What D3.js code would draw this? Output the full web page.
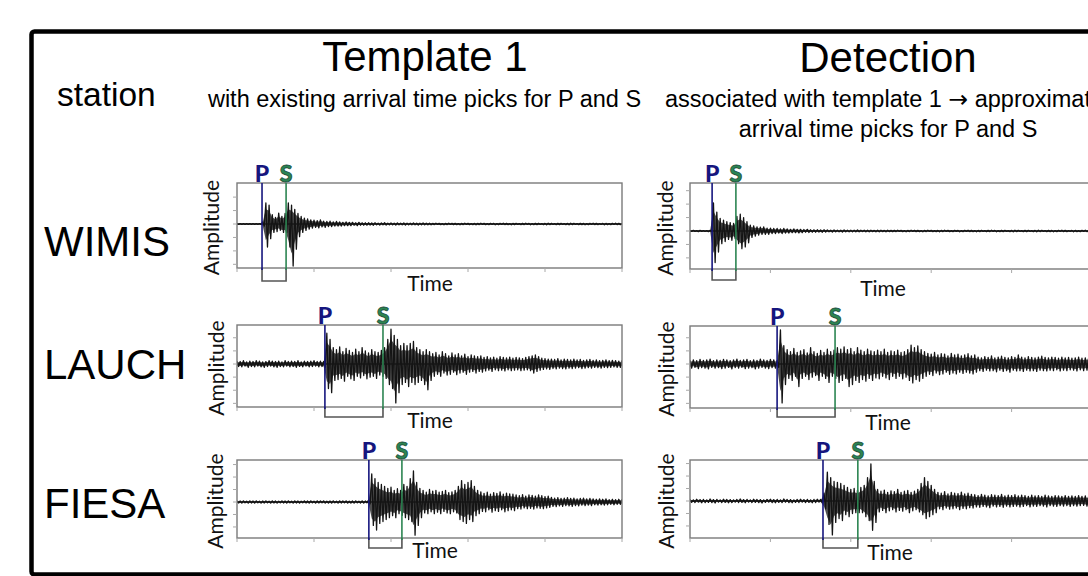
<!DOCTYPE html>
<html>
<head>
<meta charset="utf-8">
<script src="https://cdn.jsdelivr.net/npm/d3@7"></script>
<style>
  body { margin: 0; background: #fff; }
  svg { display: block; }
  .heading { font-family: 'Liberation Sans', Arial, sans-serif; fill: #000; }
  .axislabel { font-family: Lato, 'DejaVu Sans', sans-serif; fill: #111; }
  .pick { font-family: Lato, 'DejaVu Sans', sans-serif; font-weight: 900; }
</style>
</head>
<body>
<svg id="chart" width="1088" height="576"></svg>
<script>

//============================================================
// Data
// traces are envelope samples, one per second (0..120 s), in units of half the panel height
//============================================================

var stations    = ['WIMIS', 'LAUCH', 'FIESA'],
    columnTitle = ['Template 1', 'Detection'],
    timeTicks   = [0, 24, 48, 72, 96, 120],
    ampTicks    = [-0.96, -0.64, -0.32, 0, 0.32, 0.64, 0.96];

// [P, S] arrival times in seconds
var templatePicks  = [[7.8, 15.3], [27.4, 45.5], [41.1, 51.4]],
    detectionPicks = [[6.6, 13.7], [26.0, 43.3], [39.7, 50.1]];

var wimisTemplateUp = [
	0.01,0.01,0.01,0.01,0.01,0.01,0.01,0.01,
	0.05,0.5,0.45,0.22,0.16,0.26,0.18,0.25,0.5,0.45,0.35,0.25,0.18,0.14,0.12,0.1,
	0.09,0.08,0.1,0.07,0.06,0.07,0.05,0.06,0.05,0.04,0.05,0.04,0.04,0.03,0.04,0.03,0.03,
	0.03,0.025,0.03,0.02,0.025,0.03,0.02,0.025,0.02,0.025,0.02,0.025,0.02,0.02,0.025,0.02,0.02,0.025,0.02,0.02,
	0.015,0.02,0.015,0.01,0.015,0.02,0.015,0.015,0.01,0.015,0.02,0.015,0.01,0.015,0.015,0.02,0.015,0.01,0.015,0.015,
	0.01,0.015,0.02,0.015,0.01,0.015,0.015,0.01,0.015,0.02,0.015,0.01,0.015,0.015,0.01,0.015,0.02,0.015,0.01,0.015,
	0.015,0.01,0.015,0.02,0.015,0.01,0.015,0.015,0.01,0.015,0.02,0.015,0.01,0.015,0.015,0.01,0.015,0.02,0.015,0.01
];
var wimisTemplateDown = [
	0.01,0.01,0.01,0.01,0.01,0.01,0.01,0.01,
	0.05,0.55,0.35,0.2,0.18,0.15,0.2,0.2,0.55,1.0,0.6,0.3,0.2,0.15,0.12,0.1,
	0.08,0.09,0.07,0.08,0.06,0.06,0.05,0.05,0.05,0.04,0.04,0.04,0.03,0.04,0.03,0.03,0.03,
	0.025,0.03,0.02,0.025,0.02,0.025,0.02,0.02,0.025,0.02,0.02,0.025,0.02,0.02,0.02,0.025,0.02,0.02,0.02,0.02,
	0.015,0.01,0.015,0.02,0.015,0.01,0.015,0.015,0.02,0.015,0.01,0.015,0.015,0.02,0.015,0.01,0.015,0.015,0.01,0.02,
	0.015,0.01,0.015,0.015,0.02,0.015,0.01,0.015,0.015,0.01,0.02,0.015,0.015,0.01,0.015,0.02,0.015,0.01,0.015,0.015,
	0.01,0.015,0.02,0.015,0.01,0.015,0.015,0.02,0.015,0.01,0.015,0.015,0.01,0.02,0.015,0.015,0.01,0.015,0.015,0.01
];

var wimisDetectUp = [
	0.01,0.015,0.01,0.015,0.01,0.01,0.015,
	0.67,0.45,0.3,0.26,0.22,0.2,0.18,0.35,0.4,0.32,0.22,0.14,0.12,0.1,0.09,0.1,0.07,0.07,0.06,
	0.06,0.05,0.06,0.05,0.04,0.05,0.04,0.04,0.035,0.04,0.03,0.03,0.03,0.025,0.03,
	0.025,0.02,0.025,0.02,0.02,0.025,0.02,0.02,0.02,0.025,0.02,0.02,0.02,0.02,0.015,0.02,0.02,0.015,0.02,0.015,
	0.015,0.02,0.015,0.01,0.015,0.02,0.015,0.015,0.01,0.015,0.02,0.015,0.01,0.015,0.015,0.02,0.015,0.01,0.015,0.015,
	0.01,0.015,0.02,0.015,0.01,0.015,0.015,0.01,0.015,0.02,0.015,0.01,0.015,0.015,0.01,0.015,0.02,0.015,0.01,0.015,
	0.015,0.01,0.015,0.02,0.015,0.01,0.015,0.015,0.01,0.015,0.02,0.015,0.01,0.015,0.015,0.01,0.015,0.02,0.015,0.01
];
var wimisDetectDown = [
	0.01,0.01,0.015,0.01,0.01,0.015,0.01,
	0.75,0.5,0.3,0.25,0.2,0.22,0.18,0.3,0.42,0.38,0.28,0.15,0.12,0.1,0.08,0.08,0.08,0.06,0.06,
	0.05,0.06,0.05,0.05,0.04,0.04,0.045,0.04,0.03,0.035,0.03,0.03,0.025,0.03,0.025,
	0.02,0.025,0.02,0.02,0.025,0.02,0.02,0.02,0.02,0.02,0.015,0.02,0.02,0.015,0.02,0.02,0.015,0.02,0.015,0.015,
	0.015,0.01,0.015,0.02,0.015,0.01,0.015,0.015,0.02,0.015,0.01,0.015,0.015,0.02,0.015,0.01,0.015,0.015,0.01,0.02,
	0.015,0.01,0.015,0.015,0.02,0.015,0.01,0.015,0.015,0.01,0.02,0.015,0.015,0.01,0.015,0.02,0.015,0.01,0.015,0.015,
	0.01,0.015,0.02,0.015,0.01,0.015,0.015,0.02,0.015,0.01,0.015,0.015,0.01,0.02,0.015,0.015,0.01,0.015,0.015,0.01
];

var lauchTemplateUp = [
	0.07,0.06,0.08,0.05,0.07,0.06,0.08,0.07,0.05,0.06,0.08,0.07,0.06,0.07,0.05,0.08,0.06,0.07,0.06,0.08,0.05,0.07,0.06,0.07,0.08,0.06,0.07,0.06,
	0.75,0.6,0.4,0.35,0.42,0.3,0.38,0.33,0.28,0.36,0.3,0.4,0.32,0.27,0.35,0.3,0.28,0.33,
	0.4,0.6,0.85,0.7,0.6,0.45,0.5,0.45,0.5,0.55,0.4,0.35,0.3,0.35,0.3,0.25,
	0.28,0.22,0.3,0.25,0.2,0.27,0.22,0.25,0.2,0.24,0.18,0.22,0.2,0.18,0.2,
	0.16,0.18,0.15,0.17,0.14,0.18,0.16,0.15,0.17,0.14,0.16,0.15,0.13,0.16,0.18,0.2,0.22,0.18,0.14,0.13,0.12,
	0.12,0.11,0.13,0.1,0.12,0.11,0.1,0.12,0.1,0.11,0.09,0.1,0.11,0.09,0.1,0.08,0.09,0.1,0.08,0.09,0.08,0.07,0.08
];
var lauchTemplateDown = [
	0.06,0.07,0.05,0.08,0.06,0.07,0.05,0.07,0.08,0.06,0.05,0.07,0.08,0.06,0.07,0.05,0.07,0.06,0.08,0.06,0.07,0.05,0.07,0.06,0.05,0.07,0.06,0.08,
	0.6,0.7,0.4,0.38,0.35,0.42,0.3,0.36,0.4,0.3,0.34,0.28,0.36,0.32,0.3,0.35,0.27,0.3,
	0.35,0.5,0.6,0.95,0.7,0.5,0.45,0.55,0.45,0.5,0.45,0.4,0.5,0.63,0.4,0.3,
	0.25,0.3,0.22,0.27,0.25,0.2,0.26,0.22,0.2,0.25,0.2,0.18,0.22,0.18,0.2,
	0.17,0.15,0.18,0.14,0.16,0.15,0.17,0.14,0.16,0.15,0.14,0.16,0.15,0.14,0.16,0.22,0.18,0.15,0.13,0.12,0.13,
	0.11,0.12,0.1,0.11,0.12,0.1,0.11,0.1,0.09,0.11,0.1,0.09,0.1,0.08,0.09,0.1,0.08,0.09,0.08,0.07,0.08,0.08,0.07
];

var lauchDetectUp = [
	0.09,0.1,0.08,0.11,0.09,0.1,0.12,0.08,0.1,0.09,0.11,0.1,0.08,0.1,0.12,0.09,0.1,0.11,0.08,0.1,0.09,0.12,0.1,0.09,0.11,0.1,0.09,
	0.83,0.45,0.35,0.3,0.38,0.28,0.32,0.35,0.27,0.4,0.3,0.26,0.33,0.28,0.36,0.3,0.34,
	0.4,0.36,0.42,0.35,0.38,0.3,0.4,0.34,0.3,0.36,0.32,0.3,
	0.34,0.3,0.36,0.28,0.32,0.3,0.34,0.28,0.3,0.35,
	0.46,0.4,0.44,0.35,0.3,
	0.26,0.24,0.28,0.22,0.25,0.24,0.2,0.26,0.22,0.24,0.2,0.22,0.25,0.2,0.22,
	0.17,0.15,0.18,0.16,0.2,0.15,0.17,0.19,0.16,0.15,0.18,0.16,0.22,0.17,0.15,0.18,0.16,0.15,0.17,0.19,0.16,0.15,0.17,0.16,0.14,0.17,0.15,0.16,0.14,0.15,0.17,0.14,0.15,0.16,0.14
];
var lauchDetectDown = [
	0.1,0.08,0.11,0.09,0.1,0.12,0.08,0.1,0.09,0.11,0.1,0.08,0.12,0.09,0.1,0.08,0.11,0.1,0.09,0.12,0.1,0.08,0.1,0.11,0.09,0.1,0.08,
	0.95,0.5,0.35,0.4,0.3,0.55,0.35,0.3,0.38,0.32,0.28,0.4,0.3,0.35,0.45,0.3,0.35,
	0.45,0.4,0.35,0.55,0.5,0.4,0.45,0.38,0.42,0.35,0.4,0.34,
	0.36,0.3,0.34,0.38,0.3,0.35,0.3,0.36,0.32,0.4,
	0.46,0.38,0.42,0.35,0.3,
	0.25,0.28,0.22,0.26,0.24,0.2,0.25,0.22,0.24,0.2,0.23,0.2,0.22,0.24,0.2,
	0.16,0.18,0.15,0.17,0.16,0.19,0.15,0.18,0.16,0.2,0.15,0.17,0.16,0.18,0.15,0.17,0.16,0.18,0.15,0.16,0.17,0.15,0.16,0.14,0.17,0.15,0.16,0.14,0.15,0.17,0.14,0.16,0.15,0.14,0.15
];

var fiesaTemplateUp = [
	0.03,0.025,0.03,0.02,0.03,0.025,0.03,0.02,0.025,0.03,0.02,0.03,0.025,0.02,0.03,0.025,0.03,0.02,0.03,0.025,
	0.02,0.03,0.025,0.03,0.02,0.03,0.025,0.03,0.02,0.025,0.03,0.02,0.03,0.025,0.03,0.02,0.025,0.03,0.02,0.03,0.025,
	0.05,0.72,0.6,0.5,0.45,0.4,0.35,0.38,0.3,0.34,0.3,0.45,0.4,0.6,0.8,0.5,0.35,
	0.3,0.25,0.32,0.28,0.3,0.25,0.27,0.3,0.24,0.26,0.3,
	0.4,0.55,0.45,0.5,0.55,0.4,0.3,
	0.26,0.22,0.25,0.2,0.24,0.22,0.26,0.2,0.23,0.21,0.2,
	0.18,0.16,0.19,0.15,0.18,0.17,0.15,0.18,0.16,0.14,0.15,
	0.12,0.1,0.11,0.09,0.1,0.11,0.09,0.1,0.08,0.09,0.1,0.08,0.09,0.08,0.07,0.08,0.07,0.08,0.06,0.07,0.06,0.07,0.06
];
var fiesaTemplateDown = [
	0.025,0.03,0.02,0.03,0.025,0.03,0.02,0.03,0.025,0.02,0.03,0.025,0.03,0.02,0.025,0.03,0.02,0.03,0.025,0.03,
	0.02,0.025,0.03,0.02,0.03,0.025,0.02,0.03,0.025,0.03,0.02,0.03,0.025,0.02,0.03,0.025,0.03,0.02,0.025,0.03,0.02,
	0.05,0.6,0.72,0.55,0.5,0.45,0.4,0.35,0.4,0.3,0.34,0.4,0.45,0.5,0.85,0.6,0.4,
	0.28,0.3,0.25,0.3,0.26,0.3,0.24,0.28,0.3,0.25,0.28,
	0.45,0.5,0.55,0.45,0.5,0.35,0.3,
	0.24,0.25,0.2,0.26,0.22,0.24,0.2,0.25,0.22,0.2,0.22,
	0.17,0.18,0.15,0.17,0.16,0.18,0.15,0.16,0.17,0.15,0.14,
	0.11,0.12,0.1,0.11,0.09,0.1,0.11,0.09,0.1,0.08,0.09,0.08,0.09,0.07,0.08,0.07,0.08,0.07,0.06,0.07,0.06,0.06,0.06
];

var fiesaDetectUp = [
	0.04,0.03,0.045,0.035,0.04,0.03,0.05,0.035,0.04,0.03,0.045,0.04,0.035,0.03,0.04,0.05,0.035,0.04,0.03,0.045,
	0.04,0.035,0.03,0.04,0.045,0.035,0.04,0.03,0.05,0.04,0.035,0.03,0.04,0.045,0.035,0.04,0.03,0.04,0.045,0.04,
	0.2,0.74,0.6,0.5,0.48,0.45,0.4,0.35,0.3,0.32,0.28,0.35,0.4,0.6,0.95,0.5,
	0.3,0.25,0.28,0.22,0.26,0.24,0.3,0.22,0.25,0.27,0.22,0.25,0.3,
	0.45,0.6,0.5,0.4,0.3,
	0.22,0.2,0.24,0.18,0.22,0.2,0.19,0.23,0.18,0.2,0.17,
	0.16,0.14,0.17,0.15,0.13,0.16,0.15,0.14,0.17,0.13,0.15,0.14,0.16,0.13,0.15,0.14,0.12,0.15,
	0.13,0.14,0.12,0.15,0.13,0.12,0.14,0.13,0.12,0.14,0.12,0.13,0.12,0.14,0.12,0.13,0.12,0.11
];
var fiesaDetectDown = [
	0.035,0.04,0.03,0.045,0.04,0.035,0.04,0.05,0.03,0.04,0.035,0.045,0.04,0.03,0.04,0.035,0.045,0.03,0.04,0.035,
	0.04,0.05,0.035,0.03,0.04,0.045,0.035,0.04,0.03,0.04,0.045,0.035,0.04,0.03,0.04,0.035,0.045,0.04,0.03,0.04,
	0.2,0.6,0.87,0.55,0.45,0.5,0.35,0.4,0.32,0.3,0.3,0.3,0.4,0.5,0.75,0.55,
	0.28,0.24,0.3,0.25,0.22,0.28,0.24,0.26,0.22,0.3,0.25,0.22,0.28,
	0.35,0.45,0.4,0.35,0.3,
	0.2,0.22,0.18,0.21,0.2,0.18,0.22,0.19,0.2,0.17,0.18,
	0.15,0.16,0.14,0.15,0.17,0.13,0.15,0.14,0.16,0.13,0.15,0.14,0.13,0.15,0.14,0.12,0.15,0.13,
	0.14,0.12,0.13,0.15,0.12,0.13,0.14,0.12,0.13,0.12,0.14,0.12,0.13,0.12,0.11,0.13,0.12,0.11
];


//============================================================
// Layout of the six seismogram panels (template column, detection column)
//============================================================

var panels = [
	{x0: 237, x1: 622,  top: 183, bottom: 268, zero: 224, half: 42, bracket: 281, timeX: 430, timeY: 291, ampX: 219,
	 up: wimisTemplateUp, down: wimisTemplateDown, picks: templatePicks[0]},
	{x0: 690, x1: 1092, top: 183, bottom: 269, zero: 231, half: 42, bracket: 280, timeX: 883, timeY: 296, ampX: 673,
	 up: wimisDetectUp, down: wimisDetectDown, picks: detectionPicks[0]},
	{x0: 237, x1: 622,  top: 325, bottom: 407, zero: 364, half: 41, bracket: 417, timeX: 430, timeY: 428, ampX: 224,
	 up: lauchTemplateUp, down: lauchTemplateDown, picks: templatePicks[1]},
	{x0: 690, x1: 1092, top: 326, bottom: 408, zero: 364, half: 41, bracket: 417, timeX: 888, timeY: 430, ampX: 674,
	 up: lauchDetectUp, down: lauchDetectDown, picks: detectionPicks[1]},
	{x0: 237, x1: 622,  top: 460, bottom: 538, zero: 502, half: 39, bracket: 548, timeX: 435, timeY: 558, ampX: 223,
	 up: fiesaTemplateUp, down: fiesaTemplateDown, picks: templatePicks[2]},
	{x0: 690, x1: 1092, top: 460, bottom: 538, zero: 501, half: 39, bracket: 548, timeX: 890, timeY: 560, ampX: 674,
	 up: fiesaDetectUp, down: fiesaDetectDown, picks: detectionPicks[2]}
];

var pColour   = '#16167e',
    sColour   = '#2c8552',
    sOutline  = '#1b4d3b',
    frameGrey = '#7a7a7a',
    tickGrey  = '#a8a8a8',
    traceInk  = '#141414';

var svg = d3.select('#chart');

// outer black border (right side runs off the page)
svg.append('rect')
	.attr('x', 31.5)
	.attr('y', 31.5)
	.attr('width', 1100)
	.attr('height', 543)
	.attr('rx', 3)
	.style('fill', 'none')
	.style('stroke', '#000')
	.style('stroke-width', 4.5);

// column and row headings
svg.append('text').attr('class', 'heading')
	.attr('x', 57).attr('y', 106)
	.style('font-size', '33.5px')
	.text('station');

svg.append('text').attr('class', 'heading')
	.attr('x', 425).attr('y', 71)
	.attr('text-anchor', 'middle')
	.style('font-size', '42px')
	.text(columnTitle[0]);

svg.append('text').attr('class', 'heading')
	.attr('x', 888).attr('y', 72)
	.attr('text-anchor', 'middle')
	.style('font-size', '42px')
	.text(columnTitle[1]);

svg.append('text').attr('class', 'heading')
	.attr('x', 424.5).attr('y', 107)
	.attr('text-anchor', 'middle')
	.style('font-size', '23.5px')
	.text('with existing arrival time picks for P and S');

var assoc = svg.append('text').attr('class', 'heading')
	.attr('x', 665).attr('y', 107)
	.style('font-size', '23.5px');
assoc.append('tspan').text('associated with template 1 ');
assoc.append('tspan').style('font-family', "'DejaVu Sans', sans-serif").text('\u2192');
assoc.append('tspan').text(' approximate');

svg.append('text').attr('class', 'heading')
	.attr('x', 888).attr('y', 137)
	.attr('text-anchor', 'middle')
	.style('font-size', '23.5px')
	.text('arrival time picks for P and S');

svg.selectAll('.station')
	.data(stations)
	.enter()
	.append('text')
	.attr('class', 'heading station')
	.attr('x', 44)
	.attr('y', function(d, i){ return [256, 379, 518][i]; })
	.style('font-size', '42px')
	.text(function(d){ return d; });


//============================================================
// Seismogram panels
//============================================================

panels.forEach(function(p, i){

	var x = d3.scaleLinear().domain([timeTicks[0], timeTicks[timeTicks.length - 1]]).range([p.x0, p.x1]),
	    y = d3.scaleLinear().domain([-1, 1]).range([p.zero + p.half, p.zero - p.half]);

	var g = svg.append('g').attr('class', 'panel');

	g.append('rect')
		.attr('x', p.x0).attr('y', p.top)
		.attr('width', p.x1 - p.x0).attr('height', p.bottom - p.top)
		.style('fill', '#fff');

	g.append('clipPath')
		.attr('id', 'clip' + i)
		.append('rect')
		.attr('x', p.x0).attr('y', p.top)
		.attr('width', p.x1 - p.x0).attr('height', p.bottom - p.top);

	// zero line
	g.append('line')
		.attr('x1', p.x0).attr('x2', p.x1)
		.attr('y1', y(0)).attr('y2', y(0))
		.style('stroke', '#333')
		.style('stroke-width', 1.4);

	var trace = g.append('g').attr('clip-path', 'url(#clip' + i + ')');

	// shaded envelope gives the dense core of the seismogram
	var area = d3.area()
		.x(function(d, k){ return x(k); })
		.y0(function(d, k){ return y(-p.down[k] * 0.7); })
		.y1(function(d){ return y(d * 0.7); });

	trace.append('path')
		.attr('d', area(p.up))
		.style('fill', traceInk)
		.style('opacity', 0.75);

	// trace: zigzag between the positive and negative envelope samples
	var points = [];
	p.up.forEach(function(v, k){
		points.push([k, v]);
		points.push([k + 0.5, -p.down[k]]);
	});

	var line = d3.line()
		.x(function(d){ return x(d[0]); })
		.y(function(d){ return y(d[1]); });

	trace.append('path')
		.attr('d', line(points))
		.style('fill', 'none')
		.style('stroke', traceInk)
		.style('stroke-width', 1.3)
		.style('stroke-linejoin', 'round');

	// frame
	g.append('rect')
		.attr('x', p.x0).attr('y', p.top)
		.attr('width', p.x1 - p.x0).attr('height', p.bottom - p.top)
		.style('fill', 'none')
		.style('stroke', frameGrey)
		.style('stroke-width', 1.4);

	// ticks
	g.selectAll('.xtick')
		.data(timeTicks)
		.enter()
		.append('line')
		.attr('x1', function(d){ return x(d); })
		.attr('x2', function(d){ return x(d); })
		.attr('y1', p.bottom)
		.attr('y2', p.bottom + 4)
		.style('stroke', tickGrey);

	g.selectAll('.ytick')
		.data(ampTicks.filter(function(d){ return y(d) > p.top + 2 && y(d) < p.bottom - 1; }))
		.enter()
		.append('line')
		.attr('x1', p.x0 - 4)
		.attr('x2', p.x0)
		.attr('y1', function(d){ return y(d); })
		.attr('y2', function(d){ return y(d); })
		.style('stroke', tickGrey);

	// P-S window bracket below the frame
	var px = x(p.picks[0]),
	    sx = x(p.picks[1]);

	g.append('path')
		.attr('d', 'M' + px + ',' + p.bottom + 'V' + p.bracket + 'H' + sx + 'V' + p.bottom)
		.style('fill', 'none')
		.style('stroke', '#555')
		.style('stroke-width', 1.6);

	g.append('line')
		.attr('x1', px).attr('x2', px)
		.attr('y1', p.top).attr('y2', p.bottom + 2)
		.style('stroke', pColour)
		.style('stroke-width', 1.6);

	g.append('line')
		.attr('x1', sx).attr('x2', sx)
		.attr('y1', p.top).attr('y2', p.bottom + 2)
		.style('stroke', sColour)
		.style('stroke-width', 1.6);

	g.append('text')
		.attr('class', 'pick')
		.attr('x', px).attr('y', p.top - 1)
		.attr('text-anchor', 'middle')
		.style('font-size', '23px')
		.style('fill', pColour)
		.text('P');

	g.append('text')
		.attr('class', 'pick')
		.attr('x', sx).attr('y', p.top - 1)
		.attr('text-anchor', 'middle')
		.style('font-size', '23px')
		.style('fill', sColour)
		.style('stroke', sOutline)
		.style('stroke-width', 0.8)
		.text('S');

	// axis labels
	g.append('text')
		.attr('class', 'axislabel')
		.attr('x', p.timeX).attr('y', p.timeY)
		.attr('text-anchor', 'middle')
		.style('font-size', '21px')
		.text('Time');

	g.append('text')
		.attr('class', 'axislabel')
		.attr('transform', 'translate(' + p.ampX + ',' + ((p.top + p.bottom) / 2 + 2) + ') rotate(-90)')
		.attr('text-anchor', 'middle')
		.style('font-size', '21px')
		.text('Amplitude');
});

</script>
</body>
</html>
